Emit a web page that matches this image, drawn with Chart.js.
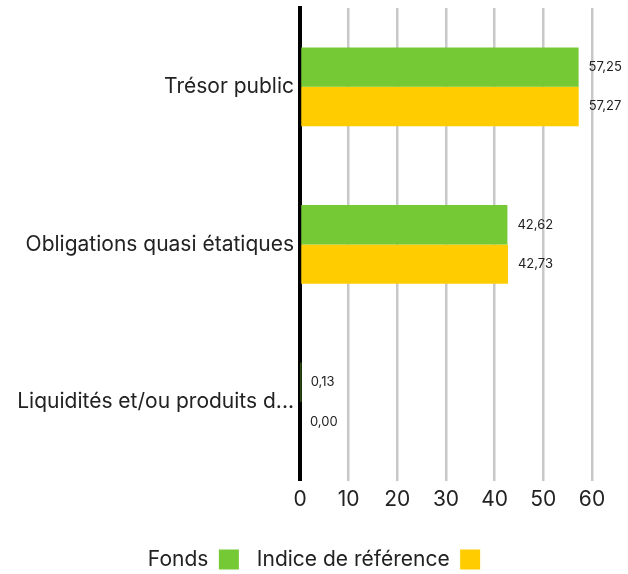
<!DOCTYPE html>
<html>
<head>
<meta charset="utf-8">
<script src="https://cdn.jsdelivr.net/npm/chart.js@4"></script>
<style>
  html, body { margin: 0; padding: 0; background: #fff; }
  #wrap { width: 628px; height: 574px; }
</style>
</head>
<body>
<div id="wrap"><canvas id="chart"></canvas></div>
<script>
var categories = ['Trésor public', 'Obligations quasi étatiques', 'Liquidités et/ou produits d...'];
var fondsValues = [57.25, 42.62, 0.13];
var indiceValues = [57.27, 42.73, 0.00];
var seriesNames = ['Fonds', 'Indice de référence'];
var xTicks = [0, 10, 20, 30, 40, 50, 60];

var fontFamily = 'Inter, "Noto Sans", sans-serif';

function formatValue(v) {
  return v.toFixed(2).replace('.', ',');
}

// draws the value next to the end of each bar
var valueLabels = {
  id: 'valueLabels',
  afterDatasetsDraw: function(chart) {
    var ctx = chart.ctx;
    ctx.save();
    ctx.font = '13px ' + fontFamily;
    ctx.fillStyle = '#222';
    ctx.textBaseline = 'middle';
    ctx.textAlign = 'left';
    chart.data.datasets.forEach(function(ds, i) {
      var meta = chart.getDatasetMeta(i);
      meta.data.forEach(function(bar, j) {
        ctx.fillText(formatValue(ds.data[j]), bar.x + 10, bar.y);
      });
    });
    ctx.restore();
  }
};

var ctx = document.getElementById('chart').getContext('2d');
var chart = new Chart(ctx, {
  type: 'bar',
  data: {
    labels: categories,
    datasets: [
      {
        label: seriesNames[0],
        data: fondsValues,
        backgroundColor: '#74C935',
        borderWidth: 0,
        categoryPercentage: 0.5,
        barPercentage: 1
      },
      {
        label: seriesNames[1],
        data: indiceValues,
        backgroundColor: '#FFCC00',
        borderWidth: 0,
        categoryPercentage: 0.5,
        barPercentage: 1
      }
    ]
  },
  options: {
    indexAxis: 'y',
    responsive: true,
    maintainAspectRatio: false,
    animation: false,
    layout: {
      padding: { left: 0, right: 0, top: 8, bottom: -6 }
    },
    scales: {
      x: {
        min: 0,
        max: 60,
        afterBuildTicks: function(scale) {
          scale.ticks = xTicks.map(function(v) { return { value: v }; });
        },
        afterFit: function(scale) {
          // room on the right of the plot, without moving the legend
          scale.paddingRight = 36;
          scale.height += 13;
        },
        grid: { color: '#c8c8c8', lineWidth: 2.5, drawTicks: false },
        border: { display: false },
        ticks: {
          color: '#222',
          padding: 6,
          font: { family: fontFamily, size: 21 }
        }
      },
      y: {
        afterFit: function(scale) {
          scale.width = 300;
          scale.paddingTop = 0;
          scale.paddingBottom = 0;
        },
        grid: { display: false, drawTicks: false },
        border: { color: '#000', width: 4 },
        ticks: {
          color: '#222',
          padding: 6,
          font: { family: fontFamily, size: 21 }
        }
      }
    },
    plugins: {
      legend: {
        position: 'bottom',
        rtl: true,
        reverse: true,
        labels: {
          color: '#222',
          boxWidth: 20,
          boxHeight: 20,
          padding: 18,
          font: { family: fontFamily, size: 21 }
        }
      },
      tooltip: { enabled: false }
    }
  },
  plugins: [valueLabels]
});
</script>
</body>
</html>
